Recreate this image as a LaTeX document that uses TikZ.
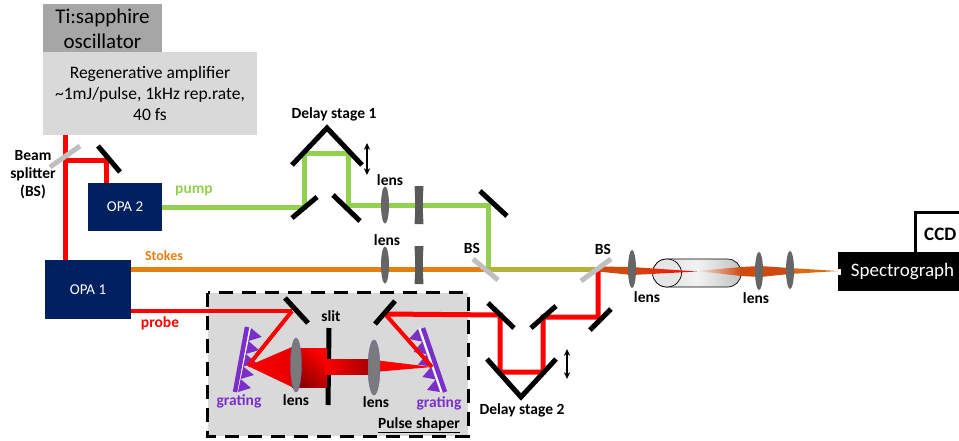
\documentclass[tikz,border=0pt]{standalone}
\usepackage{fontspec}
\setmainfont{Carlito}
\usepackage{xcolor}
\definecolor{pumpgreen}{HTML}{92D050}
\definecolor{stokesorange}{HTML}{E47F12}
\definecolor{beamred}{HTML}{FF0000}
\definecolor{navybox}{HTML}{002060}
\definecolor{gratingviolet}{HTML}{7B2FC9}
\definecolor{mixolive}{HTML}{B5B13C}
\definecolor{beammix}{HTML}{D04A10}
\usetikzlibrary{arrows.meta,positioning,calc,shapes.geometric,backgrounds}
\tikzset{
  box/.style={draw=none, align=center, inner sep=0pt, font=\fontsize{17.5}{21}\selectfont},
  opabox/.style={box, fill=navybox, text=white, font=\fontsize{15}{18}\selectfont},
  lbl/.style={inner sep=0pt, align=center, font=\bfseries\fontsize{15.5}{18}\selectfont},
  mirror/.style={draw=black, line width=5pt},
  splitter/.style={draw=black!25, line width=5pt},
  redbeam/.style={draw=beamred, line width=5pt, line join=miter},
  greenbeam/.style={draw=pumpgreen, line width=5pt, line join=miter},
  orangebeam/.style={draw=stokesorange, line width=5pt},
  lensfill/.style={ellipse, fill=black!60, inner sep=0pt},
  movearrow/.style={{Stealth[length=2.4mm,width=2.2mm]}-{Stealth[length=2.4mm,width=2.2mm]}, draw=black, line width=1.3pt},
  comp/.style={fill=black!65, draw=none},
  grbar/.style={draw=gratingviolet, line width=4.5pt},
  tooth/.style={fill=gratingviolet, draw=none},
}
% concave lens, cx cy halfheight
\newcommand{\concave}[3]{\fill[comp] (#1-4.5,#2-#3) -- (#1+4.5,#2-#3) .. controls (#1+3.5,#2) .. (#1+4.5,#2+#3) -- (#1-4.5,#2+#3) .. controls (#1-3.5,#2) .. (#1-4.5,#2-#3) -- cycle;}
\begin{document}
\begin{tikzpicture}[x=1pt,y=-1pt]
  \useasboundingbox (0,0) rectangle (959,440);
  % pulse shaper background
  \node[box, fill=black!15, minimum width=260pt, minimum height=143pt] (shaper) at (338,364.5) {};
  \draw[black, line width=3pt, dash pattern=on 14pt off 9pt] (shaper.north west) rectangle (shaper.south east);

  % sources
  \node[box, fill=black!35, minimum width=119pt, minimum height=49pt, font=\fontsize{21}{25}\selectfont] (osc) at (102.5,28.5) {Ti:sapphire\\oscillator};
  \node[box, fill=black!15, minimum width=214pt, minimum height=83pt] (regen) at (150,93.5) {Regenerative amplifier\\\char`\~1mJ/pulse, 1kHz rep.rate,\\40 fs};
  \node[opabox, minimum width=74pt, minimum height=48pt] (opa2) at (125,207) {OPA 2};
  \node[opabox, minimum width=86pt, minimum height=59pt] (opa1) at (88,289.5) {OPA 1};
  \node[box, fill=white, draw=black, line width=2.5pt, minimum width=50pt, minimum height=44pt, anchor=north west, font=\bfseries\fontsize{19}{22}\selectfont] (ccd) at (914,211) {CCD};
  \node[box, fill=black, text=white, minimum width=121pt, minimum height=39pt, font=\fontsize{19}{22}\selectfont] (spec) at (898.5,271.5) {\hspace*{8pt}Spectrograph};
  \fill[white] (837,268.5) rectangle (841,274.5);

  % turning points of the beams
  \coordinate (splitA) at (65,160);
  \coordinate (mirA) at (106,160);
  \coordinate (pumpA) at (304,207);
  \coordinate (pumpB) at (304,153);
  \coordinate (pumpC) at (348,153);
  \coordinate (pumpD) at (348,205);
  \coordinate (pumpE) at (488,205);
  \coordinate (bsone) at (488,269);
  \coordinate (bstwo) at (598,269);
  \coordinate (retA) at (598,317);
  \coordinate (retB) at (543,317);
  \coordinate (retC) at (543,372);
  \coordinate (retD) at (500,372);
  \coordinate (retE) at (500,315);
  \coordinate (shapeR) at (385,314);
  \coordinate (shapeL) at (292,311);
  \coordinate (grL) at (248,366);
  \coordinate (grR) at (432,367);

  % gratings
  \draw[white, line width=1.5pt] (250,328) -- (237.5,392);
  \draw[white, line width=1.5pt] (419.5,328) -- (441.5,392);
  \draw[grbar] (247,327) -- (235,392);
  \draw[grbar] (423,328) -- (445,392);
  \fill[tooth] (251,328) -- (261.7,337) -- (248.4,341) -- (259,350) -- (245.8,354) -- (256.5,363) -- (243.2,366.5) -- (254,375) -- (240.6,379) -- (251,388) -- (238,392) -- cycle;
  \fill[tooth] (418,329) -- (409,339) -- (422.4,341.6) -- (413.6,352) -- (426.8,354.2) -- (418,364.5) -- (431.2,366.8) -- (422.4,377) -- (435.6,379.4) -- (427,390) -- (440,392) -- cycle;

  % beams
  \draw[redbeam] (regen.south -| splitA) -- (opa1.north -| splitA);
  \draw[redbeam] (splitA) -- (mirA) -- (opa2.north -| mirA);
  \draw[greenbeam] (opa2.east |- pumpA) -- (pumpA) -- (pumpB) -- (pumpC) -- (pumpD) -- (pumpE) -- (bsone);
  \draw[orangebeam] (opa1.east |- bsone) -- (bsone);
  \draw[draw=mixolive, line width=5pt] (bsone) -- (bstwo);
  \draw[redbeam, line width=4pt] (opa1.east |- shapeL) -- (shapeL);
  \draw[redbeam, line width=4pt] (shapeL) -- (grL);
  \draw[redbeam] (bstwo) -- (retA) -- (retB) -- (retC) -- (retD) -- (retE) -- (shapeR);
  \draw[redbeam, line width=4pt] (shapeR) -- (grR);

  % beam through the cell
  \fill[beammix] (598,266.5) -- (632,267) -- (632,275) -- (598,271.5) -- cycle;
  \node[box, minimum width=88pt, minimum height=28pt, rounded corners=13.5pt, draw=black, line width=.7pt, left color=black!14, right color=black!24, middle color=black!5] (cell) at (697,273) {};
  \draw[black, line width=.7pt, fill=black!10] (667,273) ellipse (14.5 and 14);
  \shade[left color=beammix, right color=beamred] (632,267) -- (697,271.5) -- (632,275) -- cycle;
  \shade[left color=black!8, right color=beammix] (697,271) -- (741,267) -- (741,276) -- cycle;
  \fill[beammix] (741,267) -- (760,266) -- (790,268) -- (790,274) -- (760,277) -- (741,276) -- cycle;
  \fill[stokesorange!60!beammix] (790,268) -- (838,271) -- (790,274) -- cycle;

  % mirrors
  \draw[mirror] (98,146) -- (120,172);
  \draw[mirror] (292,218) -- (317,197);
  \draw[mirror] (333,195) -- (360,221);
  \draw[mirror, line join=miter] (292,165) -- (327,128) -- (362,165);
  \draw[mirror] (480,191) -- (507,216);
  \draw[mirror] (590,330) -- (611,309);
  \draw[mirror] (531,328) -- (556,306);
  \draw[mirror] (488,303) -- (514,328);
  \draw[mirror, line join=miter] (487,359) -- (521,397) -- (556,359);
  \draw[mirror] (285,298) -- (308,323);
  \draw[mirror] (375,324) -- (395,301);
  \draw[mirror] (329,328) -- (328,405);

  % splitters
  \draw[splitter] (50,167) -- (80,146);
  \draw[splitter] (473,259) -- (498,280);
  \draw[splitter] (581,281) -- (611,259);

  % lenses and compensators
  \node[lensfill, minimum width=8pt, minimum height=37pt] (lensA) at (385,205) {};
  \node[lensfill, minimum width=8pt, minimum height=37pt] (lensB) at (385,265) {};
  \concave{419}{205}{19}
  \concave{419}{265}{19}
  \node[lensfill, minimum width=8pt, minimum height=38pt] (lensC) at (632,269) {};
  \node[lensfill, minimum width=8pt, minimum height=38pt] (lensD) at (759,271) {};
  \node[lensfill, minimum width=8pt, minimum height=38pt] (lensE) at (790,270) {};

  % shaper beams
  \shade[left color=beamred, right color=beamred!90!black] (248,366) -- (292,347) -- (292,387) -- cycle;
  \shade[top color=beamred, bottom color=beamred!55!black, shading angle=-40] (292,348) rectangle (327,387);
  \shade[left color=beamred, right color=beamred!65!black] (325,359) rectangle (370,374);
  \fill[beamred] (374,360) -- (432,367) -- (374,372) -- cycle;
  \node[lensfill, fill=black!52, draw=blue!50!black!60, line width=.4pt, minimum width=11pt, minimum height=54pt] (lensF) at (296,365) {};
  \node[lensfill, fill=black!52, draw=blue!50!black!60, line width=.4pt, minimum width=12pt, minimum height=55pt] (lensG) at (374,367.5) {};

  % arrows of the stages
  \draw[movearrow] (367,143) -- (367,175);
  \draw[movearrow] (567,349) -- (567,379);

  % labels
  \node[lbl] (bslbl) at (33,175) {Beam\\splitter\\(BS)};
  \node[lbl, text=pumpgreen] (pumplbl) at (194,191) {pump};
  \node[lbl, text=stokesorange, font=\bfseries\fontsize{14}{16}\selectfont] (stokeslbl) at (164,256) {Stokes};
  \node[lbl, text=beamred] (probelbl) at (160,323) {probe};
  \node[lbl] (delayone) at (334,114) {Delay stage 1};
  \node[lbl] (delaytwo) at (522,410) {Delay stage 2};
  \node[lbl] at (390,180) (lensa) {lens};
  \node[lbl] at (387,240) (lensb) {lens};
  \node[lbl] at (647,297) (lensc) {lens};
  \node[lbl] at (756,298) (lensd) {lens};
  \node[lbl] at (296,400) (lense) {lens};
  \node[lbl] at (376,402) (lensf) {lens};
  \node[lbl] at (331,316) (slitlbl) {slit};
  \node[lbl] at (472,248) (bsa) {BS};
  \node[lbl] at (603,249) (bsb) {BS};
  \node[lbl, text=gratingviolet] at (239,401) (gratea) {grating};
  \node[lbl, text=gratingviolet] at (439,403) (grateb) {grating};
  \node[lbl] at (419,425) (shaperlbl) {\underline{Pulse shaper}};
\end{tikzpicture}
\end{document}
